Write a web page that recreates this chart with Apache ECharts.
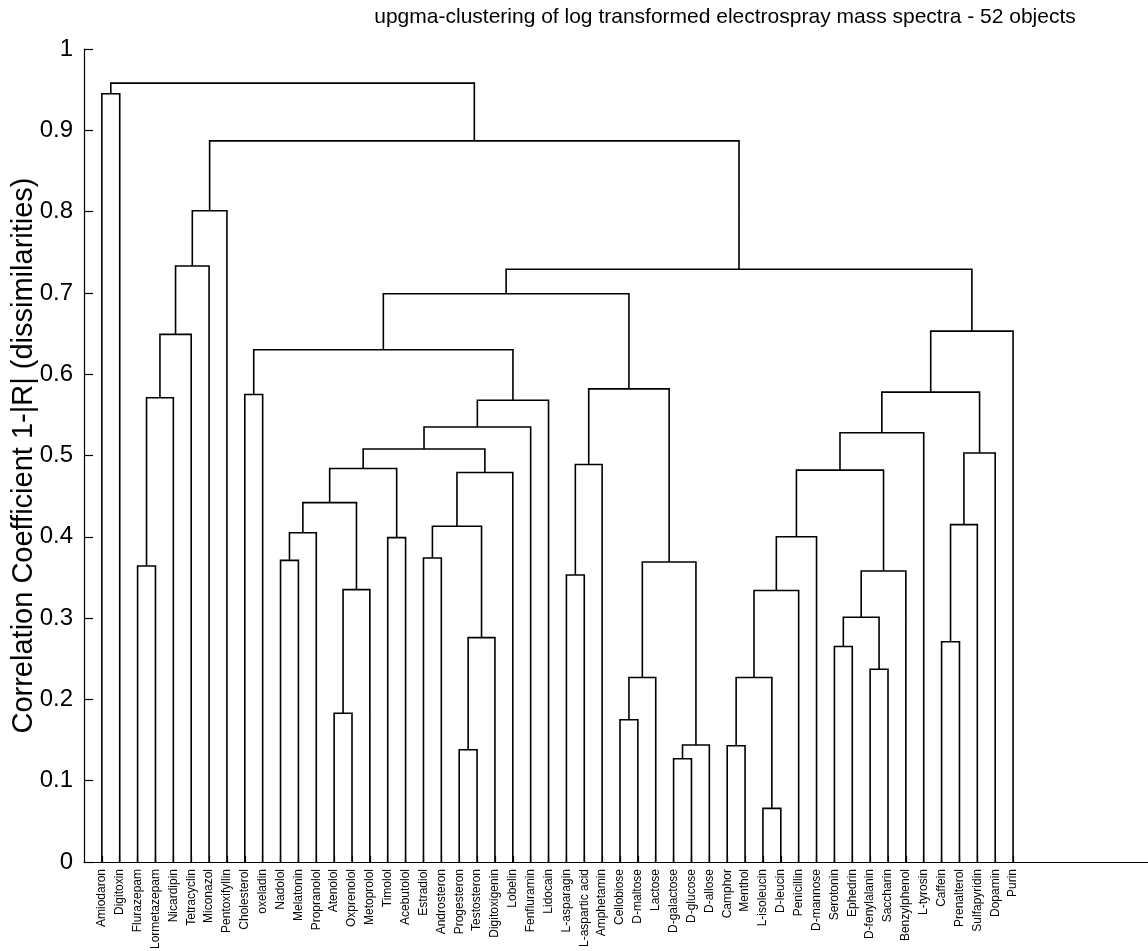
<!DOCTYPE html>
<html>
<head>
<meta charset="utf-8">
<script src="https://cdn.jsdelivr.net/npm/echarts@6/dist/echarts.min.js"></script>
<style>
  html, body { margin: 0; padding: 0; background: #fff; }
  #chart { width: 1148px; height: 951px; }
</style>
</head>
<body>
<div id="chart"></div>
<script>
// leaf order along the x axis
var leaves = ['Amiodaron', 'Digitoxin', 'Flurazepam', 'Lormetazepam', 'Nicardipin', 'Tetracyclin',
    'Miconazol', 'Pentoxifyllin', 'Cholesterol', 'oxeladin', 'Nadolol', 'Melatonin', 'Propranolol',
    'Atenolol', 'Oxprenolol', 'Metoprolol', 'Timolol', 'Acebutolol', 'Estradiol', 'Androsteron',
    'Progesteron', 'Testosteron', 'Digitoxigenin', 'Lobelin', 'Fenfluramin', 'Lidocain',
    'L-asparagin', 'L-aspartic acid', 'Amphetamin', 'Cellobiose', 'D-maltose', 'Lactose',
    'D-galactose', 'D-glucose', 'D-allose', 'Camphor', 'Menthol', 'L-isoleucin', 'D-leucin',
    'Penicillin', 'D-mannose', 'Serotonin', 'Ephedrin', 'D-fenylalanin', 'Saccharin',
    'Benzylphenol', 'L-tyrosin', 'Caffein', 'Prenalterol', 'Sulfapyridin', 'Dopamin', 'Purin'];

// linkage: a string is a leaf, a number is an earlier merge
var mergeA = ['Amiodaron', 'Flurazepam', 1, 2, 3, 4, 'Cholesterol', 'Nadolol', 7, 'Atenolol',
    9, 8, 'Timolol', 11, 'Estradiol', 'Progesteron', 15, 14, 17, 13, 19, 20, 6, 'L-asparagin', 23,
    'Cellobiose', 25, 'D-galactose', 27, 26, 24, 22, 'Camphor', 'L-isoleucin', 32, 34, 35,
    'Serotonin', 'D-fenylalanin', 37, 39, 36, 41, 'Caffein', 43, 44, 42, 46, 31, 5, 0];
var mergeB = ['Digitoxin', 'Lormetazepam', 'Nicardipin', 'Tetracyclin', 'Miconazol', 'Pentoxifyllin',
    'oxeladin', 'Melatonin', 'Propranolol', 'Oxprenolol', 'Metoprolol', 10, 'Acebutolol', 12,
    'Androsteron', 'Testosteron', 'Digitoxigenin', 16, 'Lobelin', 18, 'Fenfluramin', 'Lidocain', 21,
    'L-aspartic acid', 'Amphetamin', 'D-maltose', 'Lactose', 'D-glucose', 'D-allose', 28, 29, 30,
    'Menthol', 'D-leucin', 33, 'Penicillin', 'D-mannose', 'Ephedrin', 'Saccharin', 38, 'Benzylphenol',
    40, 'L-tyrosin', 'Prenalterol', 'Sulfapyridin', 'Dopamin', 45, 'Purin', 47, 48, 49];
var mergeH = [0.945, 0.364, 0.571, 0.649, 0.733, 0.801, 0.575, 0.371, 0.405, 0.183,
    0.335, 0.442, 0.399, 0.484, 0.374, 0.138, 0.276, 0.413, 0.479, 0.508, 0.535, 0.568, 0.630,
    0.353, 0.489, 0.175, 0.227, 0.127, 0.144, 0.369, 0.582, 0.699, 0.143, 0.066, 0.227, 0.334,
    0.400, 0.265, 0.237, 0.301, 0.358, 0.482, 0.528, 0.271, 0.415, 0.503, 0.578, 0.653, 0.729,
    0.887, 0.958];

var yTicks = [0, 1, 0.1];   // min, max, step
var spare = 8;              // empty slots to the right of the last leaf

// x axis categories: a blank slot at 0, the leaves, then blanks
var cats = [''].concat(leaves);
for (var i = 0; i < spare; i++) cats.push('');

// where each node sits (x) and how high (y)
var mergeX = [];
function nodeX(n) {
    return typeof n === 'string' ? leaves.indexOf(n) + 1 : mergeX[n];
}
function nodeY(n) {
    return typeof n === 'string' ? 0 : mergeH[n];
}
var links = [];
for (var k = 0; k < mergeH.length; k++) {
    var xa = nodeX(mergeA[k]), xb = nodeX(mergeB[k]);
    mergeX.push((xa + xb) / 2);
    links.push([xa, nodeY(mergeA[k]), xb, nodeY(mergeB[k]), mergeH[k]]);
}

var font = "'Liberation Sans', Arial, sans-serif";
var chart = echarts.init(document.getElementById('chart'));

chart.setOption({
    animation: false,
    backgroundColor: '#fff',
    title: {
        text: 'upgma-clustering of log transformed electrospray mass spectra - 52 objects',
        left: 720,
        top: 2,
        textAlign: 'center',
        textStyle: { fontFamily: font, fontSize: 21, fontWeight: 'normal', color: '#000' }
    },
    grid: { left: 84, right: -8, top: 49, bottom: 89, outerBoundsMode: 'none', containLabel: false },
    xAxis: [
        {
            type: 'category',
            position: 'bottom',
            data: cats,
            boundaryGap: false,
            axisLine: { lineStyle: { color: '#000', width: 1.2 } },
            axisTick: {
                inside: true,
                length: 6,
                interval: function (idx, val) { return val !== ''; },
                lineStyle: { color: '#000', width: 1.2 }
            },
            axisLabel: {
                interval: 0,
                rotate: 90,
                margin: 7,
                fontFamily: font,
                fontSize: 12,
                color: '#000'
            },
            splitLine: { show: false }
        },
        {
            type: 'value',
            position: 'top',
            min: 0,
            max: cats.length - 1,
            show: false
        }
    ],
    yAxis: {
        type: 'value',
        min: yTicks[0],
        max: yTicks[1],
        interval: yTicks[2],
        name: 'Correlation Coefficient 1-|R| (dissimilarities)',
        nameLocation: 'middle',
        nameGap: 46,
        nameMoveOverlap: false,
        nameTextStyle: { fontFamily: font, fontSize: 29, color: '#000' },
        axisLine: { show: true, lineStyle: { color: '#000', width: 1.2 } },
        axisTick: { show: true, inside: true, length: 9, lineStyle: { color: '#000', width: 1.2 } },
        axisLabel: { fontFamily: font, fontSize: 24, color: '#000', margin: 11 },
        splitLine: { show: false }
    },
    series: [{
        type: 'custom',
        xAxisIndex: 1,
        yAxisIndex: 0,
        data: links,
        encode: { x: [0, 2], y: [1, 3, 4] },
        renderItem: function (params, api) {
            var xa = api.value(0), ya = api.value(1);
            var xb = api.value(2), yb = api.value(3), h = api.value(4);
            return {
                type: 'polyline',
                shape: {
                    points: [api.coord([xa, ya]), api.coord([xa, h]), api.coord([xb, h]), api.coord([xb, yb])]
                },
                style: { stroke: '#000', lineWidth: 1.6, fill: null }
            };
        }
    }]
});
</script>
</body>
</html>
